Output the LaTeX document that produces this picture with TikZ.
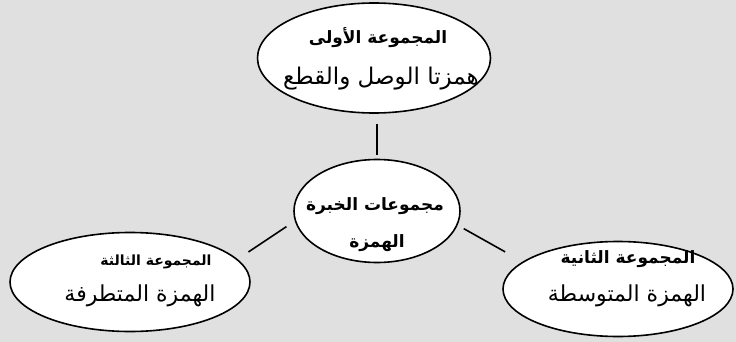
\documentclass[tikz,border=0pt]{standalone}
\usepackage{fontspec}
\newfontfamily\arabicfont[Script=Arabic]{DejaVu Sans}
\TeXXeTstate=1
\usetikzlibrary{shapes.geometric}
\definecolor{paper}{RGB}{224,224,224}
\tikzstyle{group} = [ellipse, draw=black, line width=1.6pt, fill=white, inner sep=0pt]
\tikzstyle{title} = [inner sep=0pt, font=\arabicfont\bfseries\fontsize{17}{20}\selectfont]
\tikzstyle{topic} = [inner sep=0pt, font=\arabicfont\fontsize{22}{26}\selectfont]
\tikzstyle{link} = [line width=1.6pt]

\begin{document}
\begin{tikzpicture}[x=1pt, y=-1pt]

% background
\fill[paper] (0,0) rectangle (736,342);
\useasboundingbox (0,0) rectangle (736,342);

% Ellipses
\node[group, minimum width=233pt, minimum height=110pt] (first) at (374,58) {};
\node[group, minimum width=166pt, minimum height=103pt] (core) at (377,211) {};
\node[group, minimum width=240pt, minimum height=99pt] (third) at (130,282) {};
\node[group, minimum width=230pt, minimum height=95pt] (second) at (618,289) {};

% Texts
\node[title] (firstTitle) at (378,38) {\beginR المجموعة الأولى\endR};
\node[topic, font=\arabicfont\fontsize{23}{27}\selectfont] (firstTopic) at (381,79) {\beginR همزتا الوصل والقطع\endR};

\node[title] (coreTitle) at (375,206) {\beginR مجموعات الخبرة\endR};
\node[title] (coreTopic) at (377,243) {\beginR الهمزة\endR};

\node[title, font=\arabicfont\bfseries\fontsize{14}{17}\selectfont] (thirdTitle) at (156,262) {\beginR المجموعة الثالثة\endR};
\node[topic] (thirdTopic) at (140,296) {\beginR الهمزة المتطرفة\endR};

\node[title] (secondTitle) at (628,259) {\beginR المجموعة الثانية\endR};
\node[topic] (secondTopic) at (627,296) {\beginR الهمزة المتوسطة\endR};

% Links
\draw[link, shorten <=10pt, shorten >=4pt] (first.south -| core.north) -- (core.north);
\draw[link, shorten <=10pt, shorten >=13pt] (core.187) -- (third.12);
\draw[link, shorten <=7pt, shorten >=20pt] (core.350) -- (second.164);

\end{tikzpicture}
\end{document}
